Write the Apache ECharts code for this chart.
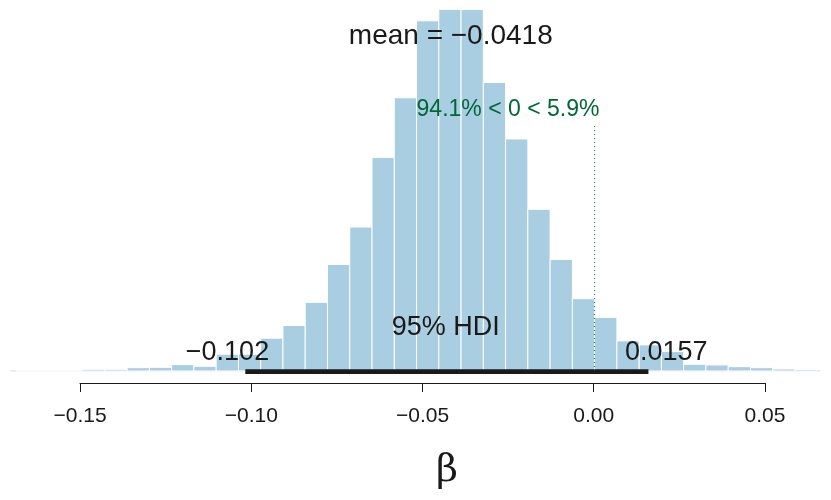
<!DOCTYPE html>
<html><head><meta charset="utf-8">
<script src="https://cdn.jsdelivr.net/npm/echarts@6/dist/echarts.min.js"></script>
<style>html,body{margin:0;padding:0;background:#fff}#c{width:831px;height:500px}</style>
</head><body><div id="c"></div>
<script>
const binWidth = 0.0065;
const firstBin = -26;
const counts = [2,2,2,5,5,10,11,19,14,50,50,98,136,205,318,430,638,816,1046,1080,1080,862,693,483,333,216,160,90,78,58,20,18,13,10,6,4];
const hdi = [-0.102, 0.0157];
const meanVal = -0.0418;
const tickLabels = ['\u22120.15','\u22120.10','\u22120.05','0.00','0.05'];

const bins = counts.map((c,i)=>[(firstBin+i)*binWidth,(firstBin+i+1)*binWidth,c]);
const chart = echarts.init(document.getElementById('c'));
const font = 'Liberation Sans, Arial, sans-serif';
chart.setOption({
  animation:false,
  graphic:[{type:'text',left:436,top:452,style:{text:'\u03B2',fill:'#1a1a1a',font:'38px DejaVu Serif, serif'}}],
  grid:[{left:10,right:11,top:9.4,bottom:129},{left:80,right:66,top:383,height:0}],
  xAxis:[
    {gridIndex:0,type:'value',min:-0.1707,max:0.0658,show:false},
    {gridIndex:1,type:'value',min:-0.15,max:0.05,interval:0.05,position:'bottom',
     axisLine:{lineStyle:{color:'#1a1a1a',width:1}},axisTick:{length:9,lineStyle:{color:'#1a1a1a'}},
     splitLine:{show:false},
     axisLabel:{fontSize:21,color:'#1a1a1a',fontFamily:font,margin:23,
       formatter:v=>tickLabels[Math.round((v+0.15)/0.05)]}}
  ],
  yAxis:[{gridIndex:0,type:'value',min:0,max:1080,show:false},{gridIndex:1,type:'value',show:false}],
  series:[
    {type:'line',xAxisIndex:0,yAxisIndex:0,data:[[-0.1707,0],[0.0658,0]],symbol:'none',lineStyle:{color:'#ccc',width:1},z:1},
    {type:'custom',xAxisIndex:0,yAxisIndex:0,data:bins,z:2,
     renderItem:(p,api)=>{
       const a=api.coord([api.value(0),api.value(2)]);
       const b=api.coord([api.value(1),0]);
       return {type:'rect',shape:{x:a[0],y:a[1],width:b[0]-a[0],height:b[1]-a[1]},
         style:{fill:'#a9cde1',stroke:'#fff',lineWidth:1}};
     }},
    {type:'line',xAxisIndex:0,yAxisIndex:0,data:[[hdi[0],-4],[hdi[1],-4]],symbol:'none',lineStyle:{color:'#1a1a1a',width:6},z:4},
    {type:'line',xAxisIndex:0,yAxisIndex:0,data:[[0,0],[0,732]],symbol:'none',lineStyle:{color:'#006837',width:1,type:[1,3]},z:5},
    {type:'scatter',xAxisIndex:0,yAxisIndex:0,symbolSize:0,z:6,itemStyle:{opacity:1},
     label:{show:true,position:'inside',fontFamily:font,color:'#1a1a1a'},
     data:[
       {value:[-0.0420,1000],label:{formatter:'mean = \u2212'+Math.abs(meanVal).toFixed(4),fontSize:28,color:'#1a1a1a'}},
       {value:[-0.0253,781],label:{formatter:'94.1% < 0 < 5.9%',fontSize:23,color:'#006837'}},
       {value:[-0.0435,130],label:{formatter:'95% HDI',fontSize:27,color:'#1a1a1a'}},
       {value:[-0.1072,55],label:{formatter:'\u22120.102',fontSize:27,color:'#1a1a1a'}},
       {value:[0.0209,55],label:{formatter:'0.0157',fontSize:27,color:'#1a1a1a'}}
     ]}
  ]
});
</script></body></html>
